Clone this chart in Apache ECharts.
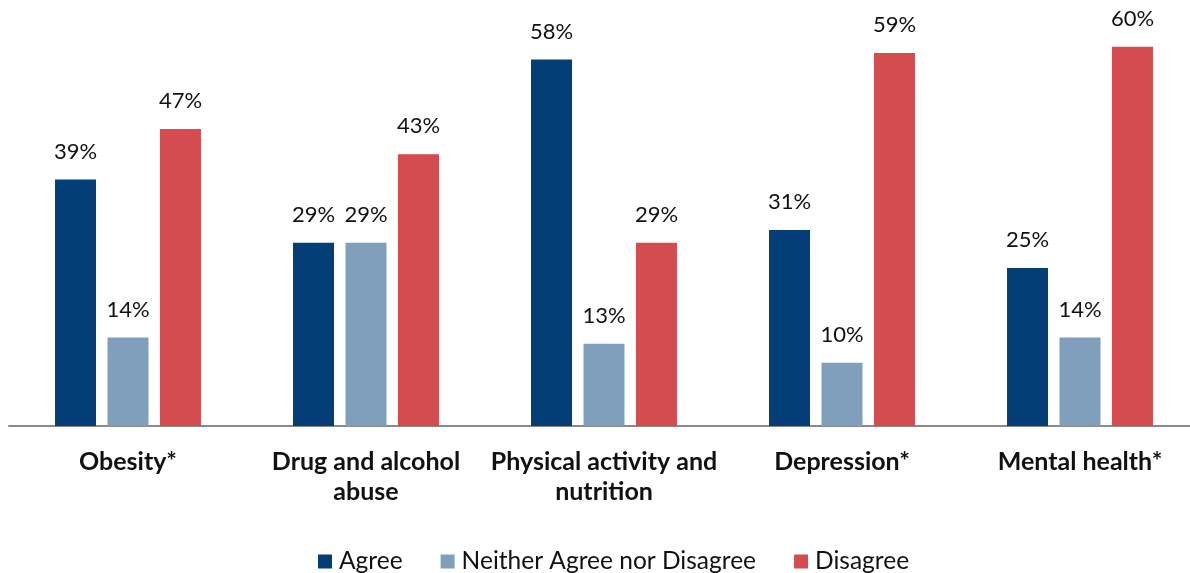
<!DOCTYPE html>
<html><head><meta charset="utf-8">
<script src="https://cdn.jsdelivr.net/npm/echarts@6/dist/echarts.min.js"></script>
<style>html,body{margin:0;padding:0;background:#fff;overflow:hidden}#c{width:1199px;height:573px}</style>
</head><body><div id="c"></div>
<script>
const categories = ['Obesity*', 'Drug and alcohol\nabuse', 'Physical activity and\nnutrition', 'Depression*', 'Mental health*'];
const seriesNames = ['Agree', 'Neither Agree nor Disagree', 'Disagree'];
const agree = [39, 29, 58, 31, 25];
const neither = [14, 29, 13, 10, 14];
const disagree = [47, 43, 29, 59, 60];
const colors = ['#033e76', '#7f9fbc', '#d44c50'];
const FONT = 'Lato';

const chart = echarts.init(document.getElementById('c'));
const mk = (name, data, color) => ({
  name, type: 'bar', data,
  barWidth: 41, barGap: '28%',
  itemStyle: { color },
  label: { show: true, position: 'top', distance: 17, lineHeight: 22, formatter: '{c}%', color: '#111', fontSize: 22, fontFamily: FONT }
});
chart.setOption({
  animation: false,
  grid: { left: 9, right: 0, top: 15.2, bottom: 147, containLabel: false },
  legend: {
    top: 544, left: 313, itemWidth: 14, itemHeight: 14, itemGap: 38,
    icon: 'rect',
    textStyle: { fontSize: 24.5, fontFamily: FONT, color: '#111', padding: [0, 0, 0, 2] },
    data: seriesNames
  },
  xAxis: {
    type: 'category', data: categories,
    axisLine: { lineStyle: { color: '#8a8a8a', width: 2 } },
    axisTick: { show: false },
    axisLabel: { interval: 0, fontSize: 25, fontWeight: 'bold', fontFamily: FONT, color: '#111', lineHeight: 30, margin: 21 }
  },
  yAxis: { type: 'value', min: 0, max: 65, show: false, splitLine: { show: false } },
  series: [mk(seriesNames[0], agree, colors[0]), mk(seriesNames[1], neither, colors[1]), mk(seriesNames[2], disagree, colors[2])]
});
</script></body></html>
